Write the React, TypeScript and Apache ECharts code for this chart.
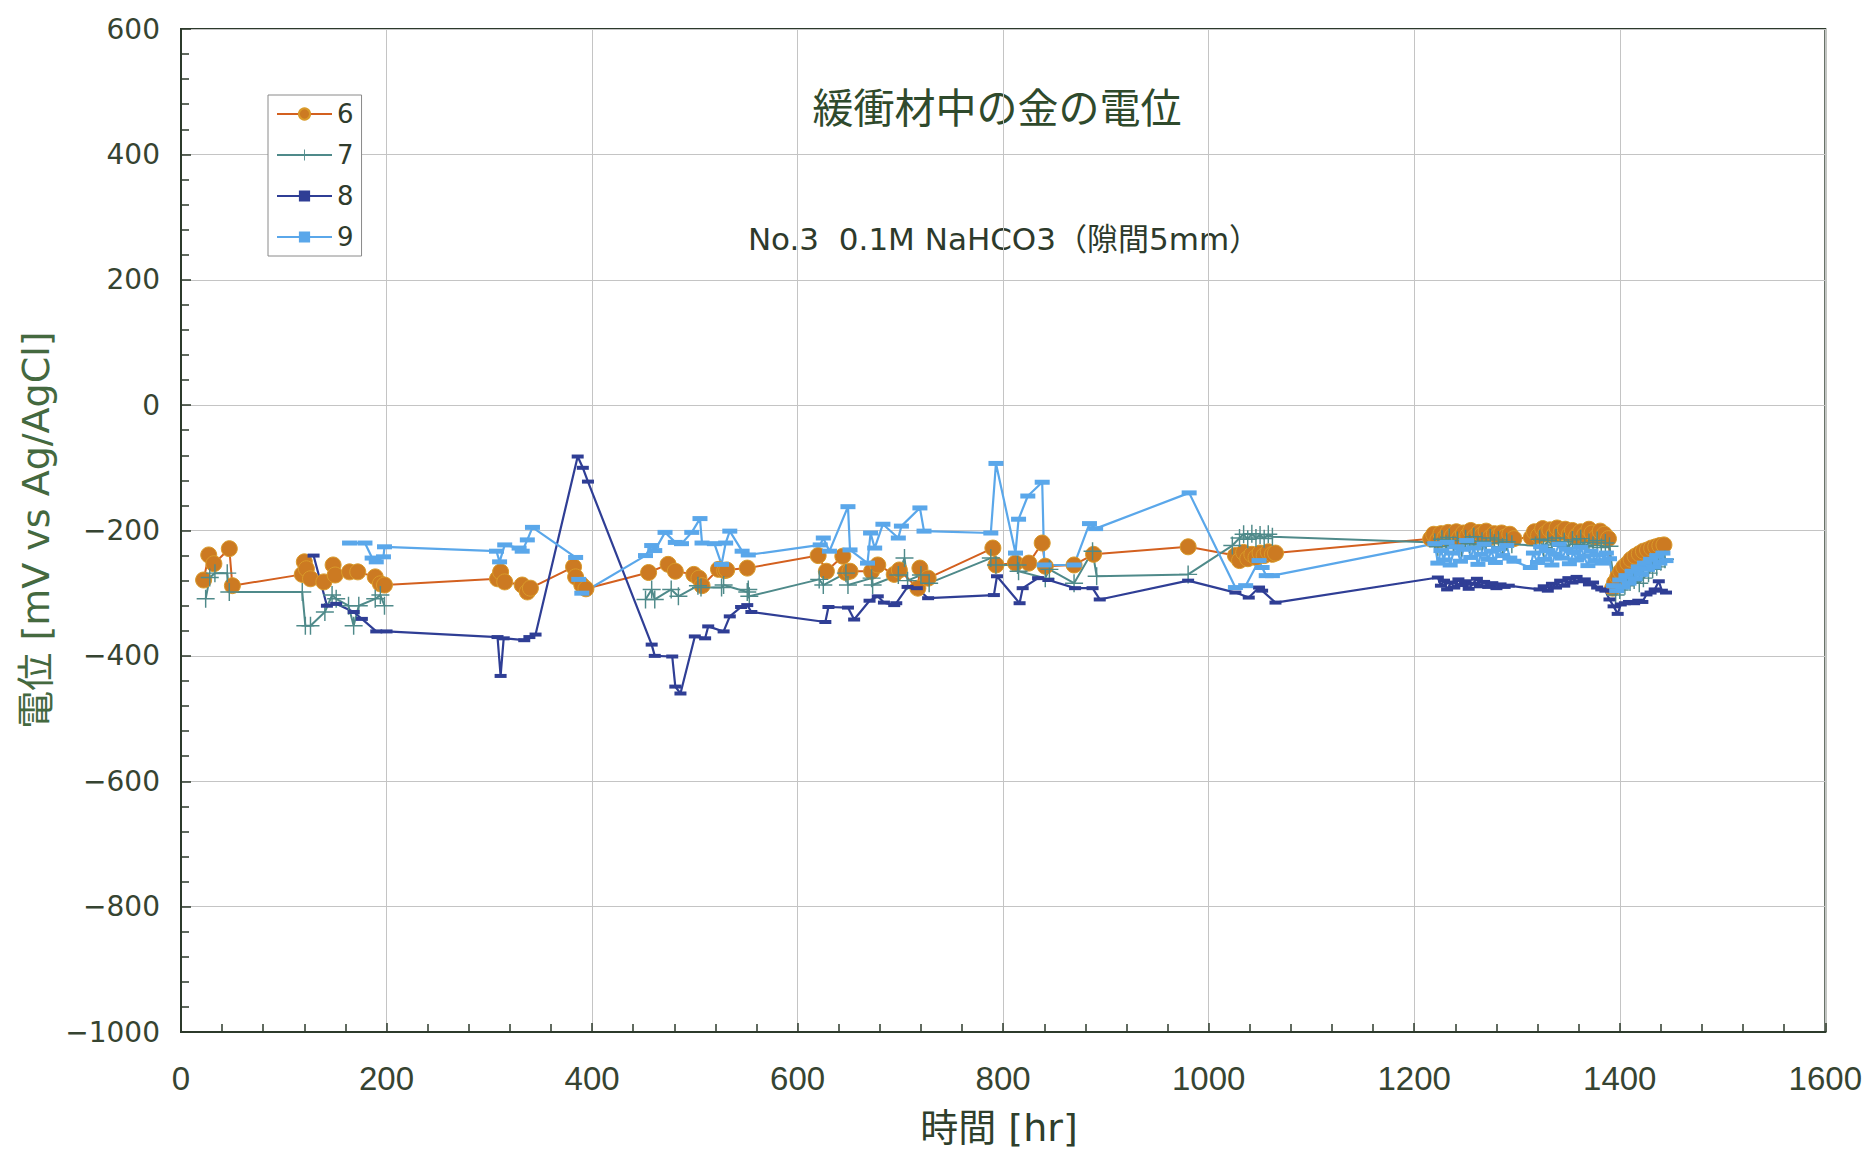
import { useEffect, useRef } from "react";
import * as echarts from "echarts";

// Gold electrode potential in buffer material, electrodes 6–9 (hours, mV vs Ag/AgCl)
const legendNames = ["6", "7", "8", "9"];

const electrode6: [number, number][] = [
  [22, -279], [27, -239], [32, -253], [47, -229], [50, -288],
  [118, -270], [120, -250], [122, -261], [126, -277], [139, -282], [148, -255], [150, -271], [164, -266], [172, -266], [189, -274], [194, -285], [198, -287],
  [308, -277], [311, -266], [315, -282], [332, -287], [337, -298], [340, -292],
  [382, -258], [384, -274], [390, -287], [394, -293],
  [455, -267], [474, -254], [481, -265], [499, -270], [504, -276], [507, -288], [523, -262], [529, -264], [531, -263], [551, -260],
  [620, -240], [628, -265], [644, -241], [647, -267], [651, -265], [672, -265], [678, -255], [694, -270], [699, -263], [717, -292], [719, -260], [727, -276],
  [790, -228], [793, -255], [812, -252], [825, -252], [838, -220], [841, -257], [869, -255], [888, -238],
  [980, -226],
  [1026, -240], [1030, -248], [1034, -235], [1038, -245], [1042, -238], [1046, -243], [1050, -236], [1054, -240], [1058, -234], [1062, -238], [1065, -236],
  [1216, -213], [1219, -206], [1223, -215], [1226, -205], [1230, -211], [1233, -203], [1237, -209], [1241, -202], [1244, -212], [1248, -204], [1252, -208], [1255, -200], [1259, -210], [1263, -203], [1266, -207], [1270, -201], [1274, -211], [1278, -205], [1281, -209], [1285, -204], [1289, -210], [1293, -206], [1297, -213],
  [1314, -211], [1317, -202], [1321, -208], [1325, -197], [1328, -205], [1332, -199], [1336, -207], [1339, -196], [1343, -203], [1347, -198], [1351, -206], [1354, -200], [1358, -209], [1362, -202], [1366, -207], [1370, -198], [1373, -204], [1377, -211], [1381, -201], [1385, -206], [1389, -213],
  [1393, -292], [1395, -283], [1398, -274], [1401, -265], [1404, -258], [1408, -252], [1411, -246], [1415, -241], [1419, -237], [1423, -233], [1427, -231], [1431, -228], [1435, -226], [1439, -224], [1443, -223],
];

// "-" leaves a gap where electrode 7 was not logged
const electrode7: any[] = [
  [24, -309], [28, -275], [33, -268], [45, -268], [47, -298], [118, -298], [121, -352], [126, -352], [140, -330], [147, -303], [151, -309], [163, -320], [168, -352], [173, -320], [189, -309], [194, -303], [198, -320],
  [320, "-"],
  [452, -310], [458, -294], [461, -310], [477, -294], [484, -305], [503, -288], [506, -291], [526, -291], [528, -287], [551, -298], [552, -294], [553, -305],
  [621, -278], [625, -287], [647, -268], [649, -287], [672, -276], [673, -287], [698, -271], [704, -244], [707, -280], [720, -271], [728, -284],
  [788, -244], [793, -255], [814, -255], [815, -265], [841, -276], [845, -262], [869, -284], [887, -233], [891, -273],
  [980, -270], [1023, -224], [1030, -212], [1034, -206], [1038, -214], [1042, -205], [1046, -212], [1050, -207], [1054, -213], [1058, -206], [1062, -210],
  [1220, -219], [1223, -226], [1227, -214], [1231, -222], [1234, -211], [1238, -224], [1242, -216], [1246, -227], [1250, -213], [1254, -221], [1258, -210], [1262, -223], [1266, -217], [1270, -225], [1274, -212], [1278, -220], [1282, -215], [1286, -226], [1290, -218], [1295, -222],
  [1318, -224], [1322, -214], [1326, -227], [1330, -216], [1334, -223], [1338, -212], [1342, -225], [1346, -218], [1350, -228], [1354, -215], [1358, -222], [1362, -213], [1366, -226], [1370, -219], [1374, -224], [1378, -216], [1382, -227], [1386, -220], [1390, -225],
  [1396, -303], [1400, -295], [1405, -288], [1410, -282], [1414, -279], [1419, -284], [1423, -276], [1428, -268], [1432, -262], [1436, -258], [1440, -250], [1444, -246],
];

const electrode8: [number, number][] = [
  [129, -240], [142, -320], [151, -317], [168, -330], [176, -341], [190, -361], [200, -361],
  [308, -370], [311, -432], [314, -372], [334, -375], [339, -370], [345, -366],
  [386, -82], [391, -100], [396, -122],
  [458, -382], [461, -400], [478, -401], [481, -449], [486, -460], [500, -369], [510, -372], [513, -353], [528, -361], [534, -337], [545, -322], [551, -319], [555, -330],
  [627, -346], [630, -322], [649, -323], [655, -342], [670, -312], [678, -305], [684, -315], [694, -319], [696, -316], [707, -290], [716, -292], [727, -308],
  [791, -303], [794, -273], [816, -316], [819, -292], [834, -276], [844, -279], [870, -292], [887, -292], [894, -310],
  [980, -280], [1026, -299], [1039, -307], [1049, -291], [1052, -296], [1065, -315],
  [1223, -275], [1226, -288], [1229, -280], [1232, -294], [1236, -283], [1239, -291], [1243, -278], [1246, -287], [1250, -281], [1253, -293], [1257, -285], [1261, -277], [1264, -289], [1268, -282], [1272, -290], [1276, -284], [1280, -292], [1284, -286], [1288, -290], [1292, -288],
  [1322, -294], [1326, -289], [1330, -296], [1334, -285], [1338, -291], [1342, -280], [1346, -288], [1350, -276], [1354, -283], [1358, -274], [1362, -281], [1366, -278], [1370, -286], [1374, -283], [1378, -291], [1382, -294], [1386, -296],
  [1390, -310], [1394, -321], [1398, -333], [1401, -318], [1405, -316], [1409, -314], [1414, -316], [1418, -312], [1422, -314], [1426, -302], [1430, -299], [1434, -294], [1438, -281], [1441, -296], [1445, -299],
];

const electrode9: [number, number][] = [
  [164, -220], [179, -220], [186, -244], [190, -250], [197, -242], [198, -226],
  [307, -233], [310, -250], [315, -223], [329, -228], [332, -233], [337, -215], [342, -195],
  [384, -243], [387, -278], [390, -300],
  [452, -240], [458, -224], [461, -232], [471, -203], [481, -219], [487, -221], [497, -203], [505, -181], [507, -220], [519, -221], [526, -254], [530, -220], [534, -201], [546, -233], [552, -239],
  [622, -223], [625, -212], [631, -233], [649, -162], [651, -231], [668, -252], [671, -204], [675, -228], [683, -190], [698, -212], [701, -193], [719, -164], [723, -201],
  [788, -204], [793, -93], [812, -236], [815, -182], [824, -145], [838, -123], [840, -255], [869, -255], [884, -189], [890, -197],
  [981, -140], [1026, -291], [1036, -288], [1049, -248], [1052, -259], [1056, -272], [1062, -272],
  [1220, -221], [1223, -252], [1226, -232], [1229, -247], [1232, -219], [1235, -255], [1238, -236], [1241, -226], [1245, -249], [1248, -230], [1251, -216], [1255, -243], [1258, -228], [1262, -254], [1265, -238], [1268, -222], [1272, -246], [1275, -233], [1279, -251], [1282, -229], [1286, -240], [1290, -224], [1293, -244], [1297, -249],
  [1313, -259], [1316, -236], [1320, -251], [1323, -226], [1327, -246], [1330, -232], [1334, -255], [1337, -238], [1341, -222], [1344, -244], [1348, -230], [1351, -253], [1355, -235], [1358, -247], [1362, -227], [1365, -241], [1369, -256], [1372, -233], [1376, -248], [1379, -239], [1383, -252], [1387, -236], [1390, -245],
  [1394, -288], [1397, -296], [1400, -279], [1403, -290], [1406, -272], [1409, -284], [1412, -265], [1415, -277], [1418, -258], [1421, -270], [1424, -252], [1427, -262], [1430, -246], [1433, -258], [1436, -240], [1439, -252], [1442, -236], [1445, -248],
];

const titleText = "緩衝材中の金の電位";
const subtitleText = "No.3  0.1M NaHCO3（隙間5mm）";
const xAxisTitle = "時間 [hr]";
const yAxisTitle = "電位 [mV vs Ag/AgCl]";

const PLUS = "path://M9.2,0h1.6v9.2h9.2v1.6h-9.2v9.2h-1.6v-9.2h-9.2v-1.6h9.2z";
const LATIN = "'DejaVu Sans', 'Noto Sans CJK JP', sans-serif";

export default function App() {
  const ref = useRef<HTMLDivElement>(null);

  useEffect(() => {
    const chart = echarts.init(ref.current!, null, { renderer: "svg" });
    const axisDark = "#2c3a2b";
    const labelColor = "#364431";
    chart.setOption({
      animation: false,
      backgroundColor: "#ffffff",
      grid: {
        left: 181,
        right: 33,
        top: 29,
        bottom: 121,
        show: true,
        borderColor: axisDark,
        borderWidth: 2,
      },
      legend: {
        data: legendNames,
        orient: "vertical",
        left: 268,
        top: 95,
        padding: [5, 8, 5, 8],
        itemWidth: 55,
        itemHeight: 14,
        itemGap: 13,
        backgroundColor: "#ffffff",
        borderColor: "#8a8a8a",
        borderWidth: 1,
        textStyle: { fontFamily: LATIN, fontSize: 26, color: "#2f3b2c", lineHeight: 28 },
      },
      xAxis: {
        type: "value",
        min: 0,
        max: 1600,
        interval: 200,
        axisLine: { onZero: false, lineStyle: { color: axisDark, width: 2 } },
        axisTick: { inside: true, length: 9, lineStyle: { color: axisDark, width: 1.5 } },
        minorTick: { show: true, splitNumber: 5, length: 8, lineStyle: { color: axisDark, width: 1.5 } },
        axisLabel: {
          margin: 30,
          fontFamily: "'Liberation Sans', Arial, sans-serif",
          fontSize: 33,
          color: labelColor,
          formatter: (v: number) => String(v),
        },
        splitLine: { show: true, lineStyle: { color: "#c4c4c4", width: 1 } },
      },
      yAxis: {
        type: "value",
        min: -1000,
        max: 600,
        interval: 200,
        axisLine: { onZero: false, lineStyle: { color: axisDark, width: 2 } },
        axisTick: { inside: true, length: 10, lineStyle: { color: axisDark, width: 1.5 } },
        minorTick: { show: true, splitNumber: 5, length: 8, lineStyle: { color: axisDark, width: 1.5 } },
        axisLabel: {
          margin: 21,
          fontFamily: LATIN,
          fontSize: 28,
          color: labelColor,
          formatter: (v: number) => String(v).replace("-", "\u2212"),
        },
        splitLine: { show: true, lineStyle: { color: "#c4c4c4", width: 1 } },
      },
      graphic: [
        {
          type: "text",
          x: 997,
          y: 105,
          style: {
            text: titleText,
            fontFamily: "'Noto Sans CJK JP', sans-serif",
            fontSize: 41,
            fill: "#2f4a2c",
            align: "center",
            verticalAlign: "middle",
          },
        },
        {
          type: "text",
          x: 1004,
          y: 239,
          style: {
            text: subtitleText,
            fontFamily: LATIN,
            fontSize: 31,
            fill: "#2d3a2b",
            align: "center",
            verticalAlign: "middle",
          },
        },
        {
          type: "text",
          x: 999,
          y: 1128,
          style: {
            text: xAxisTitle,
            fontFamily: LATIN,
            fontSize: 38,
            fill: "#2f3f2c",
            align: "center",
            verticalAlign: "middle",
          },
        },
        {
          type: "text",
          x: 36,
          y: 530,
          rotation: Math.PI / 2,
          style: {
            text: yAxisTitle,
            fontFamily: LATIN,
            fontSize: 38,
            fill: "#44693f",
            align: "center",
            verticalAlign: "middle",
          },
        },
      ],
      series: [
        {
          name: "6",
          type: "line",
          data: electrode6,
          symbol: "circle",
          symbolSize: 16,
          lineStyle: { color: "#d3601f", width: 2 },
          itemStyle: { color: "#cc7a22", borderColor: "#d99a2a", borderWidth: 1 },
        },
        {
          name: "7",
          type: "line",
          data: electrode7,
          symbol: PLUS,
          symbolSize: 18,
          connectNulls: false,
          lineStyle: { color: "#4f8a8a", width: 2 },
          itemStyle: { color: "#4f8a8a" },
        },
        {
          name: "8",
          type: "line",
          data: electrode8,
          symbol: "rect",
          symbolSize: [12, 4],
          lineStyle: { color: "#2f3e95", width: 2.2 },
          itemStyle: { color: "#2f3e95" },
        },
        {
          name: "9",
          type: "line",
          data: electrode9,
          symbol: "rect",
          symbolSize: [15, 5],
          lineStyle: { color: "#5aa7ea", width: 2.2 },
          itemStyle: { color: "#5aa7ea" },
        },
      ],
    });
    return () => chart.dispose();
  }, []);

  return (
    <div
      ref={ref}
      style={{ position: "fixed", left: 0, top: 0, width: 1865, height: 1153, background: "#ffffff" }}
    />
  );
}
